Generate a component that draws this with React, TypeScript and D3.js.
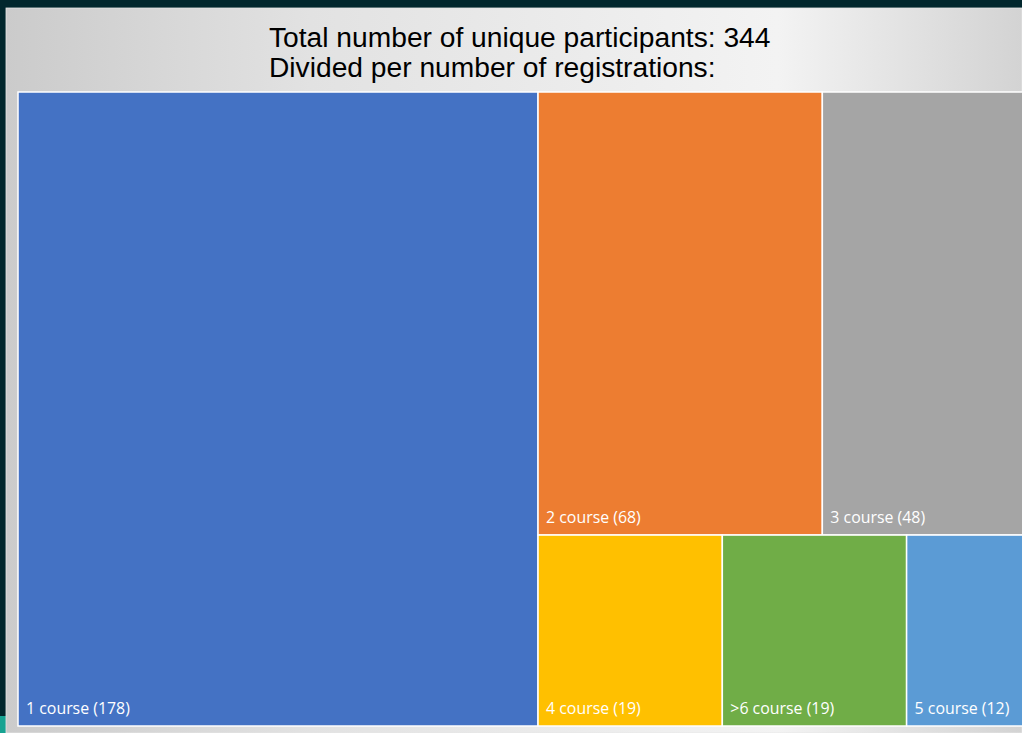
import * as d3 from 'd3';

const categories = ['1 course', '2 course', '3 course', '4 course', '>6 course', '5 course'];
const participants = [178, 68, 48, 19, 19, 12];
const colors = ['#4472C4', '#ED7D31', '#A5A5A5', '#FFC000', '#70AD47', '#5B9BD5'];
// which strip of the Excel-style layout each cell sits in
const strips = [0, 1, 1, 2, 2, 2];

const titleLines = ['Total number of unique participants: 344', 'Divided per number of registrations:'];

interface Cell {
  name: string;
  value?: number;
  color?: string;
  children?: Cell[];
}

export default function App() {
  const width = 1022;
  const height = 733;
  const margin = { left: 18, top: 92 };
  const innerWidth = 1005;
  const innerHeight = 634;

  const leaves: Cell[] = categories.map((c, i) => ({ name: c, value: participants[i], color: colors[i] }));
  const stripGroup = (s: number): Cell => ({
    name: `strip${s}`,
    children: leaves.filter((_, i) => strips[i] === s),
  });
  const data: Cell = {
    name: 'root',
    children: [...stripGroup(0).children!, { name: 'rest', children: [stripGroup(1), stripGroup(2)] }],
  };

  const root = d3.hierarchy<Cell>(data).sum(d => d.value ?? 0);
  d3.treemap<Cell>().size([innerWidth, innerHeight]).tile(d3.treemapSliceDice).round(false)(root);
  const nodes = root.leaves() as d3.HierarchyRectangularNode<Cell>[];

  return (
    <svg width={width} height={height} style={{ position: 'fixed', left: 0, top: 0 }}>
      <defs>
        <linearGradient id="panel" x1="0" y1="0" x2="1" y2="0">
          <stop offset="0" stopColor="#cbcbcb" />
          <stop offset="0.3" stopColor="#e2e2e2" />
          <stop offset="0.76" stopColor="#f3f3f3" />
          <stop offset="1" stopColor="#d3d3d3" />
        </linearGradient>
      </defs>
      <rect x={0} y={0} width={width} height={height} fill="#01272d" />
      <rect x={0} y={716} width={6} height={17} fill="#17a392" />
      <rect x={6} y={8} width={width - 6} height={height - 8} fill="url(#panel)" stroke="#e6e6e6" strokeWidth={0.8} />
      <g fontFamily="'Liberation Sans', Arial, sans-serif" fontSize={28.2} fill="#000">
        {titleLines.map((t, i) => (
          <text key={i} x={269} y={47 + i * 30}>{t}</text>
        ))}
      </g>
      <g transform={`translate(${margin.left},${margin.top})`}>
        {nodes.map(n => (
          <g key={n.data.name}>
            <rect
              x={n.x0}
              y={n.y0}
              width={n.x1 - n.x0}
              height={n.y1 - n.y0}
              fill={n.data.color}
              stroke="#fff"
              strokeWidth={1.5}
            />
            <text
              x={n.x0 + 8}
              y={n.y1 - 12}
              fill="#fff"
              fontFamily="'Open Sans', sans-serif"
              fontSize={15.9}
            >
              {`${n.data.name} (${n.data.value})`}
            </text>
          </g>
        ))}
      </g>
    </svg>
  );
}
